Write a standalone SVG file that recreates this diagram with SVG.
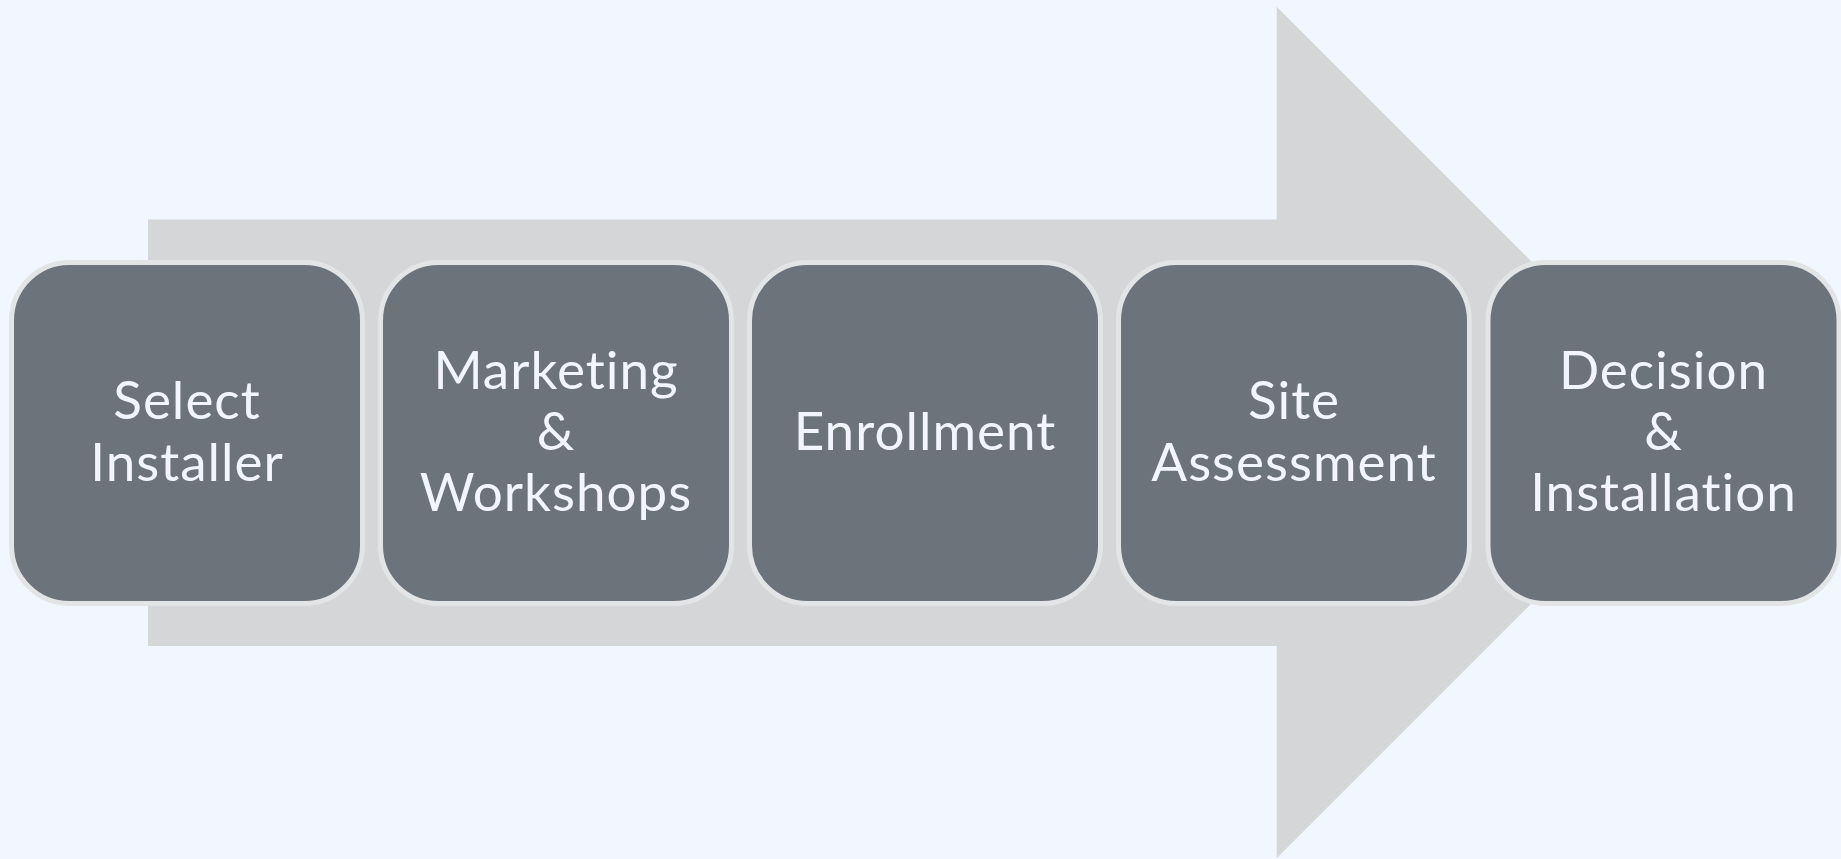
<svg xmlns="http://www.w3.org/2000/svg" width="1841" height="859" viewBox="0 0 1841 859">
<style>
.bg{fill:#F2F6FE}
.arrow{fill:#D5D6D8}
.box{fill:#6C737B;stroke:#E3E4E6;stroke-width:5}
.lbl{font-family:Lato,"Open Sans","Liberation Sans",sans-serif;font-size:53px;letter-spacing:1px;font-variant-ligatures:none;fill:#F2F5FD;text-anchor:middle}
</style>
<rect class="bg" x="0" y="0" width="1841" height="859"/>
<g id="connectors">
<polygon class="arrow" points="148,219.5 1276.7,219.5 1276.7,6.7 1702.5,432.5 1276.7,858.3 1276.7,646 148,646"/>
</g>
<g id="node1">
<rect class="box" x="11.5" y="262.5" width="351" height="341" rx="58" ry="58"/>
<text class="lbl" x="187" y="419">Select</text>
<text class="lbl" x="187" y="481">Installer</text>
</g>
<g id="node2">
<rect class="box" x="380.5" y="262.5" width="351" height="341" rx="58" ry="58"/>
<text class="lbl" x="556" y="389">Marketing</text>
<text class="lbl" x="556" y="450">&amp;</text>
<text class="lbl" x="556" y="511">Workshops</text>
</g>
<g id="node3">
<rect class="box" x="749.5" y="262.5" width="351" height="341" rx="58" ry="58"/>
<text class="lbl" x="925" y="450">Enrollment</text>
</g>
<g id="node4">
<rect class="box" x="1118.5" y="262.5" width="351" height="341" rx="58" ry="58"/>
<text class="lbl" x="1294" y="419">Site</text>
<text class="lbl" x="1294" y="481">Assessment</text>
</g>
<g id="node5">
<rect class="box" x="1488" y="262.5" width="351" height="341" rx="58" ry="58"/>
<text class="lbl" x="1663.5" y="389">Decision</text>
<text class="lbl" x="1663.5" y="450">&amp;</text>
<text class="lbl" x="1663.5" y="511">Installation</text>
</g>
</svg>
